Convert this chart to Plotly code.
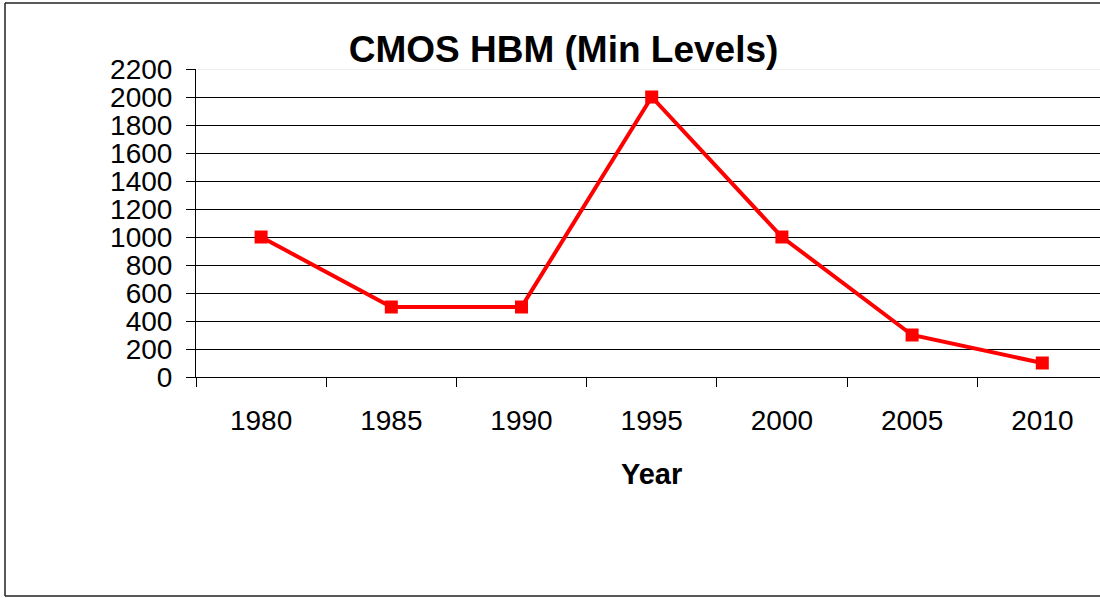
import plotly.graph_objects as go

years = ["1980", "1985", "1990", "1995", "2000", "2005", "2010"]
min_levels = [1000, 500, 500, 2000, 1000, 300, 100]
y_ticks = list(range(0, 2201, 200))

FONT = "Arial, 'Liberation Sans', sans-serif"
W, H = 1100, 598
L, T, B = 196, 69, 377  # plot area pixel edges
PW = W - L
PH = B - T
step = 130.2

fig = go.Figure()
fig.add_trace(go.Scatter(
    x=years, y=min_levels, mode="lines+markers",
    line=dict(color="#FF0000", width=4),
    marker=dict(symbol="square", size=13, color="#FF0000", line=dict(width=0)),
    showlegend=False,
))

bx0 = (5 - L) / PW
bx1 = (W + 20 - L) / PW
by0 = (B - 596) / PH
by1 = (B - 3) / PH
border = dict(color="#222222", width=1.5)

fig.update_layout(
    width=W, height=H,
    margin=dict(l=L, r=0, t=T, b=H - B, pad=0),
    paper_bgcolor="white", plot_bgcolor="white",
    font=dict(family=FONT, color="black"),
    title=dict(text="<b>CMOS HBM (Min Levels)</b>", font=dict(size=37, family=FONT, color="black"),
               x=563.5 / W, xanchor="center", y=1 - 49 / H, yanchor="middle", xref="container", yref="container"),
    xaxis=dict(
        type="category", range=[-0.5, -0.5 + PW / step],
        showline=True, linecolor="black", linewidth=1,
        ticks="outside", tickson="boundaries", ticklen=9, tickcolor="black", tickwidth=1,
        showgrid=False, tickfont=dict(size=28, family=FONT, color="black"),
        ticklabelstandoff=18,
    ),
    yaxis=dict(
        range=[0, 2200], tickvals=y_ticks,
        showline=True, linecolor="black", linewidth=1,
        ticks="outside", ticklen=9, tickcolor="black", tickwidth=1,
        showgrid=True, gridcolor="black", gridwidth=1, zeroline=False,
        tickfont=dict(size=28, family=FONT, color="black"),
        ticklabelstandoff=8,
    ),
    annotations=[dict(
        text="<b>Year</b>", xref="paper", yref="paper",
        x=(651.7 - L) / PW, y=(B - 474) / PH, xanchor="center", yanchor="middle",
        showarrow=False, font=dict(size=29, family=FONT, color="black"),
    )],
    shapes=[
        dict(type="line", xref="paper", yref="y", x0=1 / PW, x1=1, y0=2200, y1=2200,
             line=dict(color="#efefef", width=2), layer="above"),
        dict(type="line", xref="paper", yref="paper", x0=bx0, x1=bx0, y0=by0, y1=by1, line=border, layer="above"),
        dict(type="line", xref="paper", yref="paper", x0=bx0, x1=bx1, y0=by1, y1=by1, line=border, layer="above"),
        dict(type="line", xref="paper", yref="paper", x0=bx0, x1=bx1, y0=by0, y1=by0, line=border, layer="above"),
    ],
)

fig.write_html("out.html", config={"displayModeBar": False},
               post_script="document.body.style.margin='0';document.body.style.overflow='hidden';")
